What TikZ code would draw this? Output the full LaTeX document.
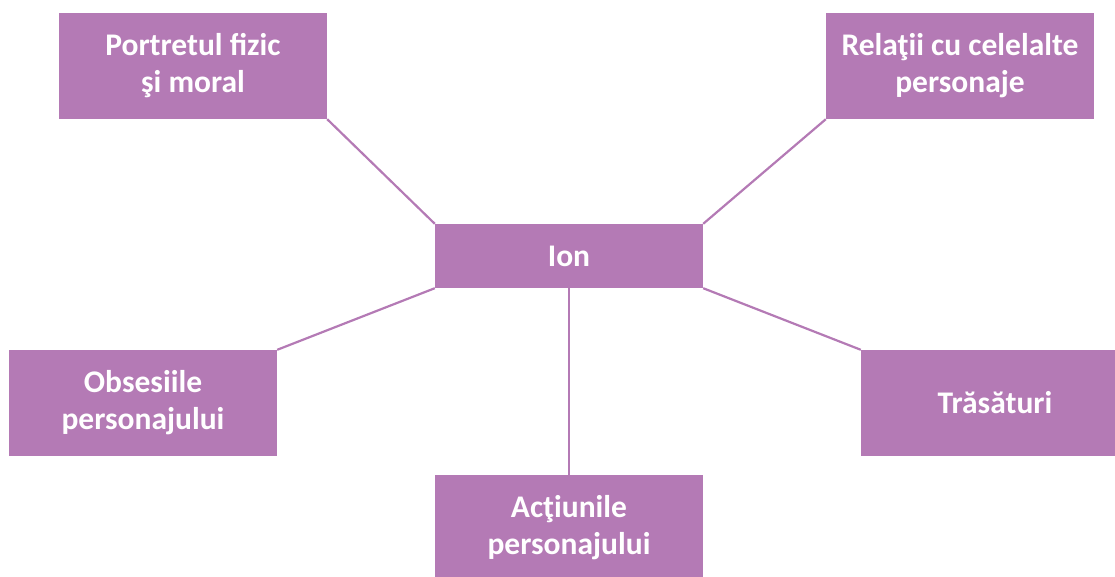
\documentclass[tikz,border=0pt]{standalone}
\usepackage{fontspec}
\setmainfont{Carlito}
\definecolor{boxpurple}{HTML}{B47AB5}
\begin{document}
\begin{tikzpicture}[x=1pt,y=-1pt,
  box/.style={fill=boxpurple, draw=none, minimum width=268pt, minimum height=106pt,
    inner sep=0pt, align=center, text=white, font=\fontsize{31.5}{37}\selectfont\bfseries},
  link/.style={draw=boxpurple, line width=2.2pt}]
\useasboundingbox (0,0) rectangle (1115,576);
\clip (0,0) rectangle (1115,576);
\node[box] (pf) at (193,66) {Portretul fizic\\şi moral};
\node[box] (rel) at (960,66) {Relaţii cu celelalte\\personaje};
\node[box, minimum height=64pt] (ion) at (569,256) {Ion};
\node[box] (obs) at (143,403) {Obsesiile\\personajului};
\node[box] (tr) at (995,403) {Trăsături};
\node[box] (act) at (569,528) {Acţiunile\\personajului};
\draw[link] (pf.south east) -- (ion.north west);
\draw[link] (rel.south west) -- (ion.north east);
\draw[link] (ion.south west) -- (obs.north east);
\draw[link] (ion.south east) -- (tr.north west);
\draw[link] (ion.south) -- (act.north);
\end{tikzpicture}
\end{document}
